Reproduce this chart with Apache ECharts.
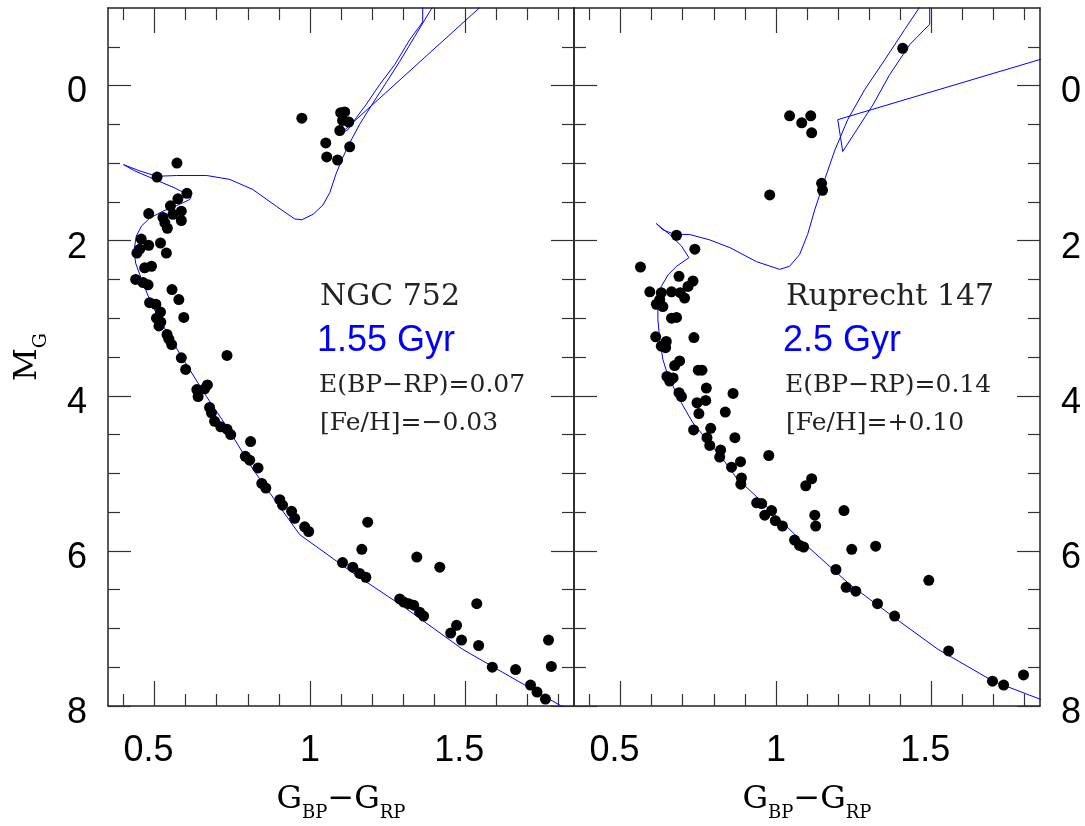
<!DOCTYPE html>
<html>
<head>
<meta charset="utf-8">
<script src="https://cdn.jsdelivr.net/npm/echarts@6/dist/echarts.min.js"></script>
<style>
  html, body { margin: 0; padding: 0; background: #fff; }
  #chart { width: 1085px; height: 826px; }
</style>
</head>
<body>
<div id="chart"></div>
<script>
// shared axis ranges and ticks (colour on x, absolute G magnitude on y)
const xRange = [0.35, 1.85]
const yRange = [-1, 8]
const xMajor = [0.5, 1, 1.5]
const xMinor = [0.4, 0.6, 0.7, 0.8, 0.9, 1.1, 1.2, 1.3, 1.4, 1.6, 1.7, 1.8]
const yMajor = [0, 2, 4, 6, 8]
const yMinor = [-0.5, 0.5, 1, 1.5, 2.5, 3, 3.5, 4.5, 5, 5.5, 6.5, 7, 7.5]

// NGC 752 members [BP-RP, M_G]
const ngc752Stars = [
  [0.572, 1.00], [0.508, 1.18], [0.604, 1.39], [0.575, 1.46], [0.551, 1.55], [0.586, 1.62],
  [0.481, 1.65], [0.559, 1.66], [0.527, 1.70], [0.586, 1.74], [0.533, 1.77], [0.541, 1.84],
  [0.457, 1.98], [0.481, 2.06], [0.519, 2.03], [0.452, 2.11], [0.443, 2.16], [0.538, 2.16],
  [0.468, 2.35], [0.490, 2.33], [0.439, 2.50], [0.463, 2.54], [0.479, 2.57], [0.556, 2.63],
  [0.578, 2.76], [0.484, 2.80], [0.504, 2.82], [0.519, 2.92], [0.594, 2.99], [0.506, 3.00],
  [0.520, 3.05], [0.514, 3.10], [0.540, 3.21], [0.546, 3.27], [0.555, 3.34], [0.733, 3.48],
  [0.586, 3.51], [0.600, 3.66], [0.670, 3.86], [0.661, 3.91], [0.636, 3.92], [0.640, 4.01],
  [0.677, 4.15], [0.683, 4.22], [0.693, 4.33], [0.713, 4.40], [0.733, 4.43], [0.745, 4.50],
  [0.809, 4.59], [0.792, 4.78], [0.806, 4.83], [0.833, 4.93], [0.845, 5.13], [0.858, 5.19],
  [0.903, 5.34], [0.912, 5.41], [0.941, 5.49], [0.951, 5.58], [0.983, 5.69], [0.996, 5.75],
  [1.105, 6.15], [1.138, 6.21], [1.160, 6.29], [1.180, 6.34], [1.167, 5.98], [1.186, 5.63],
  [1.289, 6.62], [1.302, 6.66], [1.318, 6.68], [1.334, 6.70], [1.353, 6.79], [1.366, 6.84],
  [1.344, 6.08], [1.418, 6.21], [1.453, 7.06], [1.472, 6.96], [1.488, 7.15], [1.537, 6.68],
  [1.543, 7.22], [1.587, 7.50], [1.662, 7.53], [1.710, 7.73], [1.731, 7.82], [1.758, 7.91],
  [1.777, 7.49], [1.768, 7.15],
  [0.974, 0.42], [1.051, 0.74], [1.054, 0.92], [1.089, 0.96], [1.099, 0.35], [1.112, 0.34],
  [1.105, 0.45], [1.096, 0.58], [1.125, 0.47], [1.128, 0.79]
]

// 1.55 Gyr isochrone, traced in order along the curve
const ngc752Isochrone = [
  [1.884, 8.08], [1.809, 8.00], [1.492, 7.27], [1.305, 6.73], [1.144, 6.30], [0.967, 5.79],
  [0.890, 5.36], [0.817, 4.95], [0.731, 4.39], [0.667, 4.01], [0.586, 3.49], [0.516, 3.02],
  [0.484, 2.76], [0.458, 2.50], [0.439, 2.29], [0.434, 2.12], [0.441, 1.94], [0.458, 1.81],
  [0.484, 1.71], [0.527, 1.62], [0.570, 1.55], [0.613, 1.47], [0.618, 1.43], [0.565, 1.32],
  [0.500, 1.21], [0.436, 1.10], [0.400, 1.02], [0.452, 1.10], [0.507, 1.17], [0.571, 1.16],
  [0.668, 1.16], [0.742, 1.21], [0.816, 1.34], [0.893, 1.56], [0.951, 1.72], [0.974, 1.73],
  [1.010, 1.66], [1.042, 1.54], [1.064, 1.38], [1.083, 1.15], [1.102, 0.96], [1.128, 0.74],
  [1.160, 0.50], [1.199, 0.25], [1.241, -0.01], [1.289, -0.31], [1.337, -0.63], [1.385, -0.95],
  [1.418, -1.17], [1.680, -1.49], [1.096, 0.63], [1.122, 0.57], [1.150, 0.41], [1.180, 0.25],
  [1.224, -0.01], [1.273, -0.27], [1.321, -0.59], [1.363, -0.82], [1.363, -1.11]
]

// Ruprecht 147 members [BP-RP, M_G]
const rup147Stars = [
  [0.680, 1.93], [0.739, 2.11], [0.564, 2.34], [0.688, 2.46], [0.733, 2.52], [0.717, 2.59],
  [0.594, 2.66], [0.631, 2.67], [0.664, 2.66], [0.692, 2.67], [0.706, 2.74], [0.626, 2.76],
  [0.615, 2.82], [0.636, 2.85], [0.664, 3.00], [0.680, 2.99], [0.613, 3.24], [0.647, 3.30],
  [0.631, 3.36], [0.645, 3.38], [0.736, 3.25], [0.690, 3.55], [0.674, 3.61], [0.750, 3.67],
  [0.762, 3.67], [0.649, 3.75], [0.669, 3.77], [0.658, 3.81], [0.776, 3.90], [0.862, 3.97],
  [0.688, 3.96], [0.696, 4.01], [0.774, 4.06], [0.746, 4.09], [0.837, 4.21], [0.752, 4.23],
  [0.735, 4.44], [0.790, 4.42], [0.868, 4.54], [0.778, 4.54], [0.787, 4.64], [0.822, 4.70],
  [0.977, 4.77], [0.819, 4.79], [0.886, 4.85], [0.857, 4.92], [0.889, 5.06], [0.887, 5.14],
  [0.938, 5.38], [0.954, 5.39], [0.964, 5.54], [0.986, 5.48], [0.998, 5.61], [1.021, 5.68],
  [1.060, 5.86], [1.076, 5.93], [1.089, 5.95], [1.096, 5.16], [1.115, 5.07], [1.125, 5.54],
  [1.128, 5.68], [1.219, 5.48], [1.193, 6.24], [1.226, 6.47], [1.257, 6.52], [1.244, 5.98],
  [1.321, 5.94], [1.327, 6.68], [1.382, 6.84], [1.492, 6.38], [1.556, 7.29], [1.697, 7.68],
  [1.733, 7.73], [1.797, 7.60],
  [1.044, 0.39], [1.083, 0.48], [1.112, 0.39], [1.115, 0.61], [1.147, 1.26], [1.150, 1.35],
  [1.408, -0.48], [0.980, 1.41]
]

// 2.5 Gyr isochrone
const rup147Isochrone = [
  [1.978, 8.11], [1.849, 7.91], [1.699, 7.68], [1.522, 7.27], [1.398, 6.91], [1.237, 6.43],
  [1.076, 5.85], [0.948, 5.34], [0.873, 5.06], [0.830, 4.82], [0.776, 4.56], [0.733, 4.35],
  [0.701, 4.13], [0.674, 3.92], [0.653, 3.75], [0.636, 3.53], [0.626, 3.27], [0.620, 3.02],
  [0.620, 2.80], [0.631, 2.59], [0.653, 2.44], [0.680, 2.33], [0.720, 2.22], [0.696, 2.07],
  [0.658, 1.92], [0.615, 1.78], [0.636, 1.86], [0.674, 1.92], [0.722, 1.92], [0.787, 1.99],
  [0.852, 2.09], [0.937, 2.27], [1.012, 2.37], [1.044, 2.33], [1.076, 2.18], [1.102, 1.92],
  [1.125, 1.60], [1.157, 1.21], [1.190, 0.83], [1.231, 0.44], [1.286, 0.05], [1.350, -0.33],
  [1.414, -0.72], [1.479, -1.11], [2.600, -1.23], [1.199, 0.44], [1.215, 0.85], [1.312, 0.25],
  [1.366, -0.14], [1.431, -0.53], [1.495, -0.79], [1.495, -1.11]
]

const panelText = [
  ['NGC 752', '1.55 Gyr', 'E(BP\u2212RP)=0.07', '[Fe/H]=\u22120.03'],
  ['Ruprecht 147', '2.5 Gyr', 'E(BP\u2212RP)=0.14', '[Fe/H]=+0.10']
]

const ink = '#222'
const tickStyle = { color: '#333', width: 1.2 }
const labelFont = { fontFamily: 'Liberation Sans', fontSize: 36, color: '#000' }
const serif = 'DejaVu Serif'
const noLine = { show: false, onZero: false }

// decimal labels sit a little left of their tick, as in the original plot
const xLabelFormatter = (v) => (String(v).includes('.') ? `{d|${v}}` : `{n|${v}}`)

const buildXAxes = (grid) => {
  const base = {
    type: 'value', gridIndex: grid, min: xRange[0], max: xRange[1],
    splitLine: { show: false },
    axisLine: { show: true, onZero: false, lineStyle: { color: ink, width: 1.5 } }
  }
  const major = { inside: true, length: 25, customValues: xMajor, lineStyle: tickStyle }
  const minor = { inside: true, length: 12, customValues: xMinor, lineStyle: tickStyle }
  return [
    { ...base, position: 'bottom', axisTick: major,
      axisLabel: {
        ...labelFont, customValues: xMajor, margin: 27, formatter: xLabelFormatter,
        rich: { d: { ...labelFont, padding: [0, 12, 0, 0] }, n: { ...labelFont } }
      } },
    { ...base, position: 'bottom', axisLine: noLine, axisTick: minor, axisLabel: { show: false } },
    { ...base, position: 'top', axisTick: major, axisLabel: { show: false } },
    { ...base, position: 'top', axisLine: noLine, axisTick: minor, axisLabel: { show: false } }
  ]
}

const buildYAxes = (grid, labelSide) => {
  const base = {
    type: 'value', gridIndex: grid, min: yRange[0], max: yRange[1], inverse: true,
    splitLine: { show: false },
    axisLine: { show: true, onZero: false, lineStyle: { color: ink, width: 1.5 } }
  }
  const major = { inside: true, length: 23, customValues: yMajor, lineStyle: tickStyle }
  const minor = { inside: true, length: 12, customValues: yMinor, lineStyle: tickStyle }
  const label = (side) => side === labelSide
    ? { ...labelFont, customValues: yMajor, margin: 21, verticalAlign: 'top', lineHeight: 14 }
    : { show: false }
  return [
    { ...base, position: 'left', axisTick: major, axisLabel: label('left') },
    { ...base, position: 'left', axisLine: noLine, axisTick: minor, axisLabel: { show: false } },
    { ...base, position: 'right', axisTick: major, axisLabel: label('right') },
    { ...base, position: 'right', axisLine: noLine, axisTick: minor, axisLabel: { show: false } }
  ]
}

const panelSeries = (grid, stars, isochrone) => [
  {
    type: 'line', xAxisIndex: grid * 4, yAxisIndex: grid * 4, data: isochrone,
    symbol: 'none', clip: true, z: 2,
    lineStyle: { color: '#0000ff', width: 1 }
  },
  {
    type: 'scatter', xAxisIndex: grid * 4, yAxisIndex: grid * 4, data: stars,
    symbolSize: 11, clip: true, z: 3,
    itemStyle: { color: '#000', opacity: 1 }
  }
]

const textAt = (x, y, text, fontSize, family, fill) => ({
  type: 'text', x, y, silent: true,
  style: { text, fontSize, fontFamily: family, fill, align: 'left', verticalAlign: 'middle' }
})

const panelNotes = (left, lines) => [
  textAt(left, 297, lines[0], 30, serif, ink),
  textAt(left - 3, 341, lines[1], 36, 'Liberation Sans', '#0000ff'),
  textAt(left - 1, 385, lines[2], 25, serif, ink),
  textAt(left, 423, lines[3], 25, serif, ink)
]

const subscriptRich = {
  G: { fontFamily: serif, fontSize: 32, lineHeight: 40, color: ink },
  s: { fontFamily: serif, fontSize: 18, lineHeight: 20, padding: [26, 0, 0, 0], color: ink }
}

const xTitle = (cx) => ({
  type: 'text', x: cx, y: 800, silent: true,
  style: {
    text: '{G|G}{s|BP}{G|\u2212G}{s|RP}', rich: subscriptRich,
    align: 'center', verticalAlign: 'middle'
  }
})

const chart = echarts.init(document.getElementById('chart'), null, { renderer: 'canvas' })

chart.setOption({
  animation: false,
  backgroundColor: '#fff',
  grid: [
    { left: 108, top: 8, width: 466, height: 698 },
    { left: 574, top: 8, width: 466, height: 698 }
  ],
  xAxis: [...buildXAxes(0), ...buildXAxes(1)],
  yAxis: [...buildYAxes(0, 'left'), ...buildYAxes(1, 'right')],
  series: [
    ...panelSeries(0, ngc752Stars, ngc752Isochrone),
    ...panelSeries(1, rup147Stars, rup147Isochrone)
  ],
  graphic: [
    ...panelNotes(320, panelText[0]),
    ...panelNotes(786, panelText[1]),
    xTitle(341),
    xTitle(807),
    {
      type: 'text', x: 28, y: 357, rotation: Math.PI / 2, silent: true,
      style: {
        text: '{M|M}{s|G}',
        rich: {
          M: { fontFamily: serif, fontSize: 32, lineHeight: 40, color: ink },
          s: { fontFamily: serif, fontSize: 19, lineHeight: 20, padding: [26, 0, 0, 0], color: ink }
        },
        align: 'center', verticalAlign: 'middle'
      }
    }
  ]
})
</script>
</body>
</html>
